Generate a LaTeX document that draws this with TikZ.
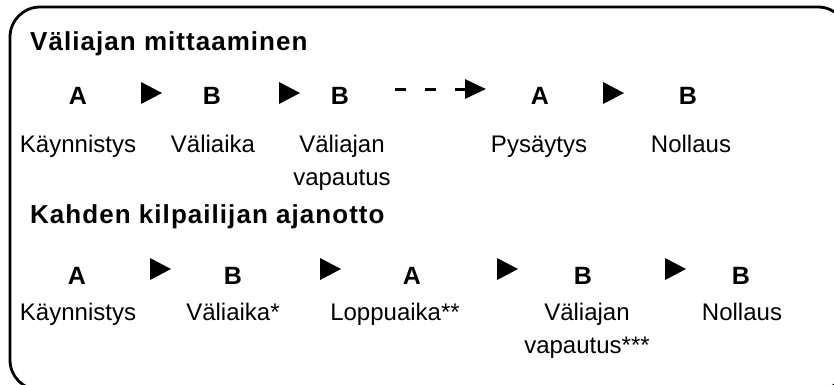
\documentclass[tikz,border=0pt]{standalone}
\usepackage{fontspec}
\setmainfont{Liberation Sans}
\usetikzlibrary{arrows.meta}

\tikzset{
  heading/.style={anchor=base west, inner sep=0pt,
    font=\fontsize{26}{30}\selectfont\bfseries\addfontfeature{LetterSpace=4}},
  key/.style={anchor=base, inner sep=0pt, font=\fontsize{25}{30}\selectfont\bfseries},
  caption/.style={anchor=base, inner sep=0pt, font=\fontsize{24}{33}\selectfont},
  frame/.style={line width=2.8pt, rounded corners=30pt},
  playmark/.style={fill=black},
  jump/.style={line width=3pt, dash pattern=on 11pt off 19pt,
    -{Triangle[length=21pt,width=19pt]}}
}

% small filled triangle centred on a coordinate (y axis points down)
\newcommand\playtri[1]{\fill[playmark] (#1) ++(-10,-11) -- ++(21,11) -- ++(-21,11) -- cycle;}
\newcommand\twolines[2]{\begin{tabular}[t]{@{}c@{}}#1\\#2\end{tabular}}

\begin{document}
\begin{tikzpicture}[x=1pt, y=-1pt]
  \useasboundingbox (0,0) rectangle (834,384);
  \clip (0,0) rectangle (834,384);
  \draw[frame] (10,7) rectangle (848,390);

  % --- first sequence ---
  \node[heading] (h1) at (30,50) {Väliajan mittaaminen};

  \node[key] (a1) at (78,104) {A};
  \node[key] (b1) at (212,104) {B};
  \node[key] (b2) at (340,104) {B};
  \node[key] (a2) at (540,104) {A};
  \node[key] (b3) at (688,104) {B};

  \coordinate (t1) at (151,93);
  \coordinate (t2) at (289,93);
  \coordinate (t3) at (613,93);
  \playtri{t1}\playtri{t2}\playtri{t3}

  \coordinate (js) at (395,89);
  \coordinate (je) at (486,89);
  \draw[jump] (js) -- (je);

  \node[caption] (l1) at (78,152) {Käynnistys};
  \node[caption] (l2) at (213,152) {Väliaika};
  \node[caption] (l3) at (342,152) {\twolines{Väliajan}{vapautus}};
  \node[caption] (l4) at (539,152) {Pysäytys};
  \node[caption] (l5) at (691,152) {Nollaus};

  % --- second sequence ---
  \node[heading] (h2) at (30,223) {Kahden kilpailijan ajanotto};

  \node[key] (c1) at (77,284) {A};
  \node[key] (c2) at (233,284) {B};
  \node[key] (c3) at (412,284) {A};
  \node[key] (c4) at (583,284) {B};
  \node[key] (c5) at (741,284) {B};

  \coordinate (u1) at (160,269);
  \coordinate (u2) at (330,269);
  \coordinate (u3) at (507,269);
  \coordinate (u4) at (675,269);
  \playtri{u1}\playtri{u2}\playtri{u3}\playtri{u4}

  \node[caption] (m1) at (78,320) {Käynnistys};
  \node[caption] (m2) at (233,320) {Väliaika*};
  \node[caption] (m3) at (395,320) {Loppuaika**};
  \node[caption] (m4) at (587,320) {\twolines{Väliajan}{vapautus***}};
  \node[caption] (m5) at (742,320) {Nollaus};
\end{tikzpicture}
\end{document}
